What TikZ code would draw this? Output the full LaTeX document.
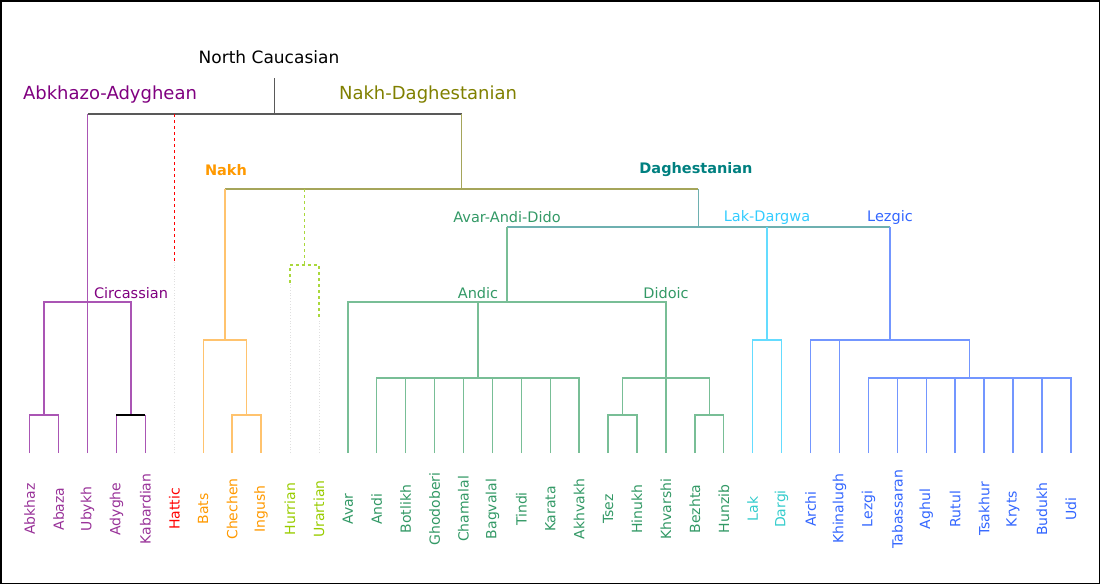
\documentclass[tikz,border=0pt]{standalone}
\usepackage{fontspec}
\setmainfont{DejaVu Sans}
\usetikzlibrary{calc}

\definecolor{aatext}{RGB}{128,0,128}
\definecolor{aaleaf}{RGB}{153,51,153}
\definecolor{aaline}{RGB}{170,85,180}
\definecolor{hattext}{RGB}{255,0,0}
\definecolor{nakhtext}{RGB}{255,153,0}
\definecolor{nakhline}{RGB}{255,195,110}
\definecolor{hutext}{RGB}{153,204,0}
\definecolor{huline}{RGB}{170,216,60}
\definecolor{ndtext}{RGB}{128,128,0}
\definecolor{ndline}{RGB}{165,165,90}
\definecolor{dagtext}{RGB}{0,128,128}
\definecolor{dagline}{RGB}{110,176,176}
\definecolor{aadtext}{RGB}{51,153,102}
\definecolor{aadline}{RGB}{120,190,150}
\definecolor{ldtext}{RGB}{51,204,255}
\definecolor{ldleaf}{RGB}{51,204,204}
\definecolor{ldline}{RGB}{100,220,255}
\definecolor{leztext}{RGB}{51,102,255}
\definecolor{lezline}{RGB}{115,150,255}

% x position of leaf number #1
\newcommand\leafx[1]{29.7+28.92*#1}

\tikzset{
  branch/.style={line width=1.4pt},
  ghost/.style={line width=0.8pt,gray!25,dotted},
  leaf/.style={font=\fontsize{14}{16}\selectfont,rotate=90,inner sep=0pt},
  toplabel/.style={font=\fontsize{17}{20}\selectfont,inner sep=0pt},
  famlabel/.style={font=\fontsize{18}{21}\selectfont,inner sep=0pt},
  grplabel/.style={font=\bfseries\fontsize{14.5}{17}\selectfont,inner sep=0pt},
  sublabel/.style={font=\fontsize{14.5}{17}\selectfont,inner sep=0pt},
}

\begin{document}
\begin{tikzpicture}[x=1pt,y=-1pt]
\useasboundingbox (0,0) rectangle (1100,584);
\draw[line width=1.5pt] (0.75,0.75) rectangle (1099.25,583.25);

% leaves
\foreach \i/\name/\col in {0/Abkhaz/aaleaf,1/Abaza/aaleaf,2/Ubykh/aaleaf,3/Adyghe/aaleaf,
    4/Kabardian/aaleaf,5/Hattic/hattext,6/Bats/nakhtext,7/Chechen/nakhtext,8/Ingush/nakhtext,
    9/Hurrian/hutext,10/Urartian/hutext,11/Avar/aadtext,12/Andi/aadtext,13/Botlikh/aadtext,
    14/Ghodoberi/aadtext,15/Chamalal/aadtext,16/Bagvalal/aadtext,17/Tindi/aadtext,
    18/Karata/aadtext,19/Akhvakh/aadtext,20/Tsez/aadtext,21/Hinukh/aadtext,22/Khvarshi/aadtext,
    23/Bezhta/aadtext,24/Hunzib/aadtext,25/Lak/ldleaf,26/Dargi/ldleaf,27/Archi/leztext,
    28/Khinalugh/leztext,29/Lezgi/leztext,30/Tabassaran/leztext,31/Aghul/leztext,
    32/Rutul/leztext,33/Tsakhur/leztext,34/Kryts/leztext,35/Budukh/leztext,36/Udi/leztext}
{
  \coordinate (\name) at ({\leafx{\i}},453);
  \node[leaf,text=\col] (\name-lbl) at ({\leafx{\i}},509) {\name};
}

% junctions
\coordinate (abab) at ({\leafx{0.5}},415);
\coordinate (adkab) at ({\leafx{3.5}},415);
\coordinate (aa) at ({\leafx{2}},302);
\coordinate (chin) at ({\leafx{7.5}},415);
\coordinate (nakh) at ({\leafx{6.75}},340);
\coordinate (hu) at ({\leafx{9.5}},265);
\coordinate (hur-end) at ({\leafx{9}},283);
\coordinate (ura-end) at ({\leafx{10}},320);
\coordinate (andic) at ({\leafx{15.5}},378);
\coordinate (tshi) at ({\leafx{20.5}},415);
\coordinate (behu) at ({\leafx{23.5}},415);
\coordinate (didoic) at ({\leafx{22}},378);
\coordinate (aad) at ({\leafx{16.5}},302);
\coordinate (ld) at ({\leafx{25.5}},340);
\coordinate (lz8) at ({\leafx{32.5}},378);
\coordinate (lez) at ({\leafx{29.75}},340);
\coordinate (dag) at ({\leafx{23.125}},227);
\coordinate (nd) at ({\leafx{14.9375}},189);
\coordinate (nc) at ({\leafx{8.47}},114);
\coordinate (nc-top) at ({\leafx{8.47}},78);
\coordinate (hat-end) at ({\leafx{5}},262);

% North Caucasian
\draw[branch,black!65] (nc-top) -- (nc);
\draw[branch,black!65] (aa |- nc) -- (nd |- nc);

% Abkhazo-Adyghean
\draw[branch,aaline] (Ubykh) -- (aa) -- (aa |- nc);
\draw[branch,aaline] (abab) |- (aa) -| (adkab);
\draw[branch,aaline] (Abkhaz) |- (abab) -| (Abaza);
\draw[branch,aaline] (Adyghe) -- (Adyghe |- adkab);
\draw[branch,aaline] (Kabardian) -- (Kabardian |- adkab);
\draw[branch,black] (Adyghe |- adkab) -- (Kabardian |- adkab);

% Hattic
\draw[branch,hattext,dashed] (Hattic |- nc) -- (hat-end);
\draw[ghost] (Hattic) -- (hat-end);

% Nakh-Daghestanian
\draw[branch,ndline] (nd |- nc) -- (nd);
\draw[branch,ndline] (nakh |- nd) -- (dag |- nd);
\draw[branch,nakhline] (nakh |- nd) -- (nakh);
\draw[branch,nakhline] (Bats) |- (nakh) -| (chin);
\draw[branch,nakhline] (Chechen) |- (chin) -| (Ingush);

% Hurro-Urartian
\draw[branch,huline,dashed] (hu |- nd) -- (hu);
\draw[branch,huline,dashed] (hur-end) |- (hu) -| (ura-end);
\draw[ghost] (Hurrian) -- (hur-end);
\draw[ghost] (Urartian) -- (ura-end);

% Daghestanian
\draw[branch,dagline] (dag |- nd) -- (dag);
\draw[branch,dagline] (aad |- dag) -- (lez |- dag);
\draw[branch,aadline] (aad |- dag) -- (aad);
\draw[branch,aadline] (Avar) |- (aad) -| (Khvarshi);
\draw[branch,aadline] (andic) -- (andic |- aad);
\draw[branch,aadline] (Andi) |- (andic) -| (Akhvakh);
\foreach \n in {Botlikh,Ghodoberi,Chamalal,Bagvalal,Tindi,Karata}
  \draw[branch,aadline] (\n) -- (\n |- andic);
\draw[branch,aadline] (tshi) |- (didoic) -| (behu);
\draw[branch,aadline] (Tsez) |- (tshi) -| (Hinukh);
\draw[branch,aadline] (Bezhta) |- (behu) -| (Hunzib);
\draw[branch,ldline] (ld |- dag) -- (ld);
\draw[branch,ldline] (Lak) |- (ld) -| (Dargi);
\draw[branch,lezline] (lez |- dag) -- (lez);
\draw[branch,lezline] (Archi) |- (lez) -| (lz8);
\draw[branch,lezline] (Khinalugh) -- (Khinalugh |- lez);
\draw[branch,lezline] (Lezgi) |- (lz8) -| (Udi);
\foreach \n in {Tabassaran,Aghul,Rutul,Tsakhur,Kryts,Budukh}
  \draw[branch,lezline] (\n) -- (\n |- lz8);

% labels
\node[toplabel] (nc-lbl) at (269,57) {North Caucasian};
\node[famlabel,text=aatext] (aa-lbl) at (110,95) {Abkhazo-Adyghean};
\node[famlabel,text=ndtext] (nd-lbl) at (428,95) {Nakh-Daghestanian};
\node[grplabel,text=nakhtext] (nakh-lbl) at (226,170) {Nakh};
\node[grplabel,text=dagtext] (dag-lbl) at (696,170) {Daghestanian};
\node[sublabel,text=aadtext] (aad-lbl) at (507,217) {Avar-Andi-Dido};
\node[sublabel,text=ldtext] (ld-lbl) at (767,217) {Lak-Dargwa};
\node[sublabel,text=leztext] (lez-lbl) at (890,217) {Lezgic};
\node[sublabel,text=aadtext] (andic-lbl) at (478,293) {Andic};
\node[sublabel,text=aadtext] (didoic-lbl) at (666,293) {Didoic};
\node[sublabel,text=aatext] (circ-lbl) at (131,293) {Circassian};
\end{tikzpicture}
\end{document}
